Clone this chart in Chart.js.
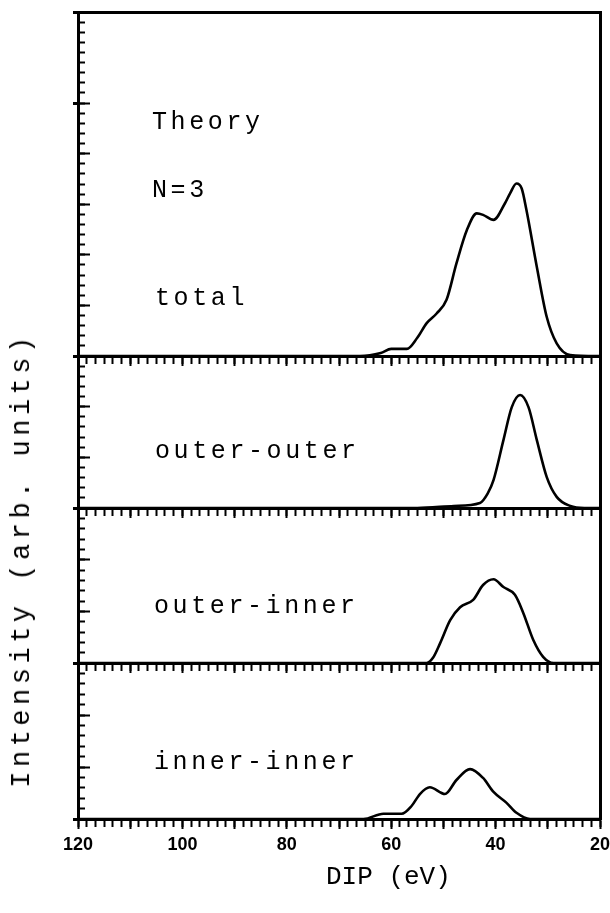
<!DOCTYPE html>
<html>
<head>
<meta charset="utf-8">
<script src="https://cdn.jsdelivr.net/npm/chart.js@4.4.1/dist/chart.umd.min.js"></script>
<style>
body { margin: 0; background: #fff; }
#wrap { position: relative; width: 610px; height: 913px; overflow: hidden; background: #fff; }
canvas { position: absolute; left: 0; top: 0; }
.lbl { position: absolute; font-family: 'Liberation Mono', monospace; font-size: 25px; line-height: 26px; color: #000; white-space: nowrap; letter-spacing: 3.6px; }
.ttl { position: absolute; font-family: 'Liberation Mono', monospace; font-size: 26px; line-height: 28px; color: #000; white-space: nowrap; }
</style>
</head>
<body>
<div id="wrap">
<canvas id="c1" width="610" height="913"></canvas>
<canvas id="c2" width="610" height="913"></canvas>
<canvas id="c3" width="610" height="913"></canvas>
<canvas id="c4" width="610" height="913"></canvas>
<div class="lbl" style="left:152px;top:110px">Theory</div>
<div class="lbl" style="left:152px;top:178px">N=3</div>
<div class="lbl" style="left:155px;top:286px">total</div>
<div class="lbl" style="left:155px;top:439px">outer-outer</div>
<div class="lbl" style="left:154px;top:594px">outer-inner</div>
<div class="lbl" style="left:154px;top:750px">inner-inner</div>
<div class="ttl" style="left:326px;top:863px">DIP (eV)</div>
<div class="ttl" style="left:22px;top:560px;font-size:27px;letter-spacing:4.5px;transform:translate(-50%,-50%) rotate(-90deg);">Intensity (arb. units)</div>
</div>
<script>
// DIP (eV) positions and intensities (arb. units)
let totalDip = [120, 66, 62, 60, 57, 55, 53.2, 51.3, 49.4, 47.5, 45.5, 43.6, 42.4, 40.4, 38.2, 37.2, 36, 35, 34.1, 32.1, 30.2, 28.3, 25.7, 20];
let totalInt = [0, 0, 0.06, 0.14, 0.14, 0.36, 0.65, 0.84, 1.11, 1.83, 2.49, 2.82, 2.79, 2.69, 3.02, 3.22, 3.41, 3.31, 2.89, 1.76, 0.77, 0.25, 0.02, 0];

let ooDip = [120, 55, 48, 43, 41.5, 40.4, 38.5, 36.9, 35.3, 33.7, 32.1, 30.2, 28.3, 25.7, 23, 20];
let ooInt = [0, 0, 0.04, 0.1, 0.29, 0.55, 1.34, 1.99, 2.23, 1.99, 1.34, 0.61, 0.22, 0.04, 0, 0];

let oiDip = [120, 55, 53.2, 52, 50.6, 48.7, 46.8, 44.3, 42.4, 40.4, 38.5, 36.3, 34.7, 32.8, 30.9, 28.9, 20];
let oiInt = [0, 0, 0, 0.1, 0.39, 0.83, 1.08, 1.22, 1.51, 1.62, 1.47, 1.32, 0.97, 0.45, 0.12, 0, 0];

let iiDip = [120, 65.3, 61.5, 58, 56.1, 54.5, 52.6, 49.7, 47.5, 44.9, 42.4, 40.4, 37.9, 36, 33.4, 20];
let iiInt = [0, 0, 0.1, 0.1, 0.25, 0.48, 0.61, 0.48, 0.75, 0.96, 0.79, 0.52, 0.31, 0.12, 0, 0];

let dipLabels = [120, 100, 80, 60, 40, 20];

// inward ticks: put the tick axis a few pixels inside the frame so its
// (leftward) tick marks end on the frame line. 522 px span 100 eV.
function inset(px) { return 120 - px * 100 / 522; }

function makePanel(id, dip, inten, top, bottom, ymax, medTicks, outTicks, showLabels) {
    let pts = dip.map((d, i) => ({ x: d, y: inten[i] }));
    let xBase = { type: 'linear', axis: 'x', position: { y: 0 }, min: 20, max: 120, reverse: true };
    let yBase = { type: 'linear', axis: 'y', position: { x: 120 }, min: 0, max: ymax };
    let scales = {
        x: Object.assign({}, xBase, {
            ticks: { display: false, count: 61 },
            grid: { drawOnChartArea: false, tickLength: 6, tickWidth: 2, tickColor: '#000' },
            border: { display: true, color: '#000', width: 3 }
        }),
        xMaj: Object.assign({}, xBase, {
            ticks: {
                display: showLabels, count: 11, autoSkip: false, maxRotation: 0, padding: 5, color: '#000',
                font: { family: 'Liberation Sans', size: 18, weight: 'bold' },
                callback: (v) => dipLabels.includes(Math.round(v)) ? String(Math.round(v)) : ''
            },
            // labels may overhang the plot, keep the plot width fixed
            afterFit: (ax) => { ax.paddingLeft = 0; ax.paddingRight = 0; },
            grid: { drawOnChartArea: false, tickLength: 10, tickWidth: 2, tickColor: '#000' },
            border: { display: false }
        }),
        y: Object.assign({}, yBase, {
            ticks: { display: false },
            grid: { drawOnChartArea: false, drawTicks: false },
            border: { display: true, color: '#000', width: 3 }
        }),
        yMin: Object.assign({}, yBase, {
            position: { x: inset(7) },
            ticks: { display: false, stepSize: 0.2 },
            grid: { drawOnChartArea: false, tickLength: 6, tickWidth: 2, tickColor: '#000' },
            border: { display: false }
        }),
        yMed: Object.assign({}, yBase, {
            position: { x: inset(12) },
            ticks: { display: false },
            afterBuildTicks: (ax) => { ax.ticks = medTicks.map(v => ({ value: v })); },
            grid: { drawOnChartArea: false, tickLength: 11, tickWidth: 2, tickColor: '#000' },
            border: { display: false }
        }),
        yOut: Object.assign({}, yBase, {
            ticks: { display: false },
            afterBuildTicks: (ax) => { ax.ticks = outTicks.map(v => ({ value: v })); },
            grid: { drawOnChartArea: false, tickLength: 5, tickWidth: 3, tickColor: '#000' },
            border: { display: false }
        }),
        yR: Object.assign({}, yBase, {
            position: { x: 20 },
            ticks: { display: false },
            grid: { drawOnChartArea: false, drawTicks: false },
            border: { display: true, color: '#000', width: 3 }
        })
    };
    if (id === 'c1') {
        scales.xTop = Object.assign({}, xBase, {
            position: { y: ymax },
            ticks: { display: false },
            grid: { drawOnChartArea: false, drawTicks: false },
            border: { display: true, color: '#000', width: 3 }
        });
    }
    return new Chart(document.getElementById(id).getContext('2d'), {
        type: 'line',
        data: {
            datasets: [{
                data: pts,
                xAxisID: 'x',
                yAxisID: 'y',
                borderColor: '#000',
                borderWidth: 2.6,
                pointRadius: 0,
                fill: false,
                cubicInterpolationMode: 'monotone'
            }]
        },
        options: {
            responsive: false,
            maintainAspectRatio: false,
            animation: false,
            devicePixelRatio: 1,
            events: [],
            layout: { padding: { left: 78, right: 10, top: top, bottom: 913 - bottom } },
            plugins: { legend: { display: false }, tooltip: { enabled: false } },
            scales: scales
        }
    });
}

makePanel('c1', totalDip, totalInt, 12, 356, 6.8, [1, 2, 3, 4, 5], [0, 5, 6.8], false);
makePanel('c2', ooDip, ooInt, 356, 508, 3, [1, 2], [0], false);
makePanel('c3', oiDip, oiInt, 508, 663, 3, [1, 2], [0], false);
makePanel('c4', iiDip, iiInt, 663, 819, 3, [1, 2], [0], true);
</script>
</body>
</html>
